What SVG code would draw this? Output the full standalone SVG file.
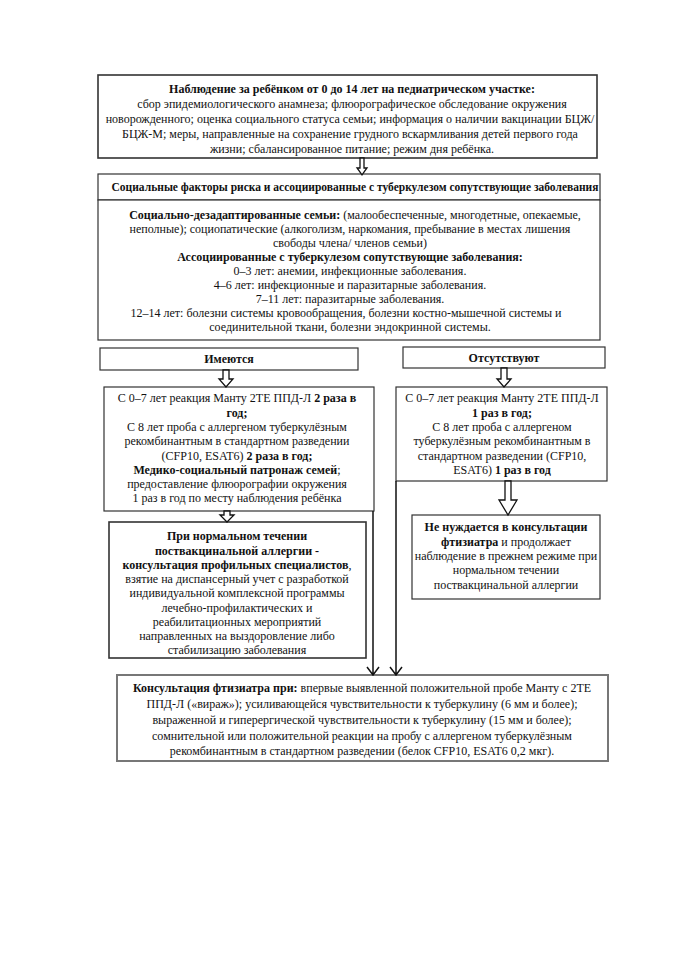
<svg xmlns="http://www.w3.org/2000/svg" width="678" height="960" viewBox="0 0 678 960">
<style>
.box{fill:#fff;stroke:#333;stroke-width:1.2}
.t{font-family:"Liberation Serif","Times New Roman",serif;font-size:12px;fill:#111;text-anchor:middle}
.b{font-weight:bold}
.arr{fill:#fff;stroke:#111;stroke-width:1.3}
.ln{fill:none;stroke:#111;stroke-width:1.5}
</style>
<rect width="678" height="960" fill="#fff"/>
<g id="n-observation">
<rect class="box" x="98" y="75" width="499" height="83" style="stroke-width:1.6"/>
<text class="t" x="352" y="93"><tspan class="b">Наблюдение за ребёнком от 0 до 14 лет на педиатрическом участке:</tspan></text>
<text class="t" x="352" y="108">сбор эпидемиологического анамнеза; флюорографическое обследование окружения</text>
<text class="t" x="350" y="123">новорожденного; оценка социального статуса семьи; информация о наличии вакцинации БЦЖ/</text>
<text class="t" x="350" y="138">БЦЖ-М; меры, направленные на сохранение грудного вскармливания детей первого года</text>
<text class="t" x="352" y="153">жизни; сбалансированное питание; режим дня ребёнка.</text>
</g>
<g id="n-header">
<rect class="box" x="98" y="174" width="502" height="26"/>
<text class="t b" x="355" y="191" style="font-size:11.5px">Социальные факторы риска и ассоциированные с туберкулезом сопутствующие заболевания</text>
</g>
<g id="n-factors">
<rect class="box" x="98" y="200" width="502" height="140"/>
<text class="t" x="355" y="219"><tspan class="b">Социально-дезадаптированные семьи:</tspan> (малообеспеченные, многодетные, опекаемые,</text>
<text class="t" x="350" y="233">неполные); социопатические (алкоголизм, наркомания, пребывание в местах лишения</text>
<text class="t" x="350" y="247">свободы члена/ членов семьи)</text>
<text class="t b" x="350" y="261">Ассоциированные с туберкулезом сопутствующие заболевания:</text>
<text class="t" x="350" y="275">0–3 лет: анемии, инфекционные заболевания.</text>
<text class="t" x="350" y="289">4–6 лет: инфекционные и паразитарные заболевания.</text>
<text class="t" x="350" y="303">7–11 лет: паразитарные заболевания.</text>
<text class="t" x="346" y="317">12–14 лет: болезни системы кровообращения, болезни костно-мышечной системы и</text>
<text class="t" x="350" y="331">соединительной ткани, болезни эндокринной системы.</text>
</g>
<g id="n-present">
<rect class="box" x="100" y="348" width="258" height="22"/>
<text class="t b" x="229" y="363">Имеются</text>
</g>
<g id="n-absent">
<rect class="box" x="403" y="347" width="202" height="21"/>
<text class="t b" x="504" y="362">Отсутствуют</text>
</g>
<g id="n-present-tests">
<rect class="box" x="104" y="387" width="270" height="124"/>
<text class="t" x="237" y="402">С 0–7 лет реакция Манту 2ТЕ ППД-Л <tspan class="b">2 раза в</tspan></text>
<text class="t b" x="237" y="417">год;</text>
<text class="t" x="237" y="431">С 8 лет проба с аллергеном туберкулёзным</text>
<text class="t" x="237" y="445">рекомбинантным в стандартном разведении</text>
<text class="t" x="237" y="460">(CFP10, ESAT6) <tspan class="b">2 раза в год;</tspan></text>
<text class="t" x="237" y="474"><tspan class="b">Медико-социальный патронаж семей</tspan>;</text>
<text class="t" x="237" y="488">предоставление флюорографии окружения</text>
<text class="t" x="237" y="502">1 раз в год по месту наблюдения ребёнка</text>
</g>
<g id="n-absent-tests">
<rect class="box" x="396" y="387" width="211" height="94"/>
<text class="t" x="502" y="402">С 0–7 лет реакция Манту 2ТЕ ППД-Л</text>
<text class="t b" x="502" y="417">1 раз в год;</text>
<text class="t" x="502" y="431">С 8 лет проба с аллергеном</text>
<text class="t" x="502" y="445">туберкулёзным рекомбинантным в</text>
<text class="t" x="502" y="460">стандартном разведении (CFP10,</text>
<text class="t" x="502" y="474">ESAT6) <tspan class="b">1 раз в год</tspan></text>
</g>
<g id="n-specialists">
<rect class="box" x="109" y="522" width="257" height="136" style="stroke-width:1.6"/>
<text class="t b" x="237" y="540">При нормальном течении</text>
<text class="t b" x="237" y="555">поствакцинальной аллергии -</text>
<text class="t" x="237" y="569"><tspan class="b">консультация профильных специалистов</tspan>,</text>
<text class="t" x="237" y="583">взятие на диспансерный учет с разработкой</text>
<text class="t" x="237" y="597">индивидуальной комплексной программы</text>
<text class="t" x="237" y="612">лечебно-профилактических и</text>
<text class="t" x="237" y="626">реабилитационных мероприятий</text>
<text class="t" x="237" y="640">направленных на выздоровление либо</text>
<text class="t" x="237" y="654">стабилизацию заболевания</text>
</g>
<g id="n-no-consult">
<rect class="box" x="412" y="515" width="188" height="84"/>
<text class="t b" x="506" y="531">Не нуждается в консультации</text>
<text class="t" x="506" y="546"><tspan class="b">фтизиатра</tspan> и продолжает</text>
<text class="t" x="506" y="560">наблюдение в прежнем режиме при</text>
<text class="t" x="506" y="574">нормальном течении</text>
<text class="t" x="506" y="589">поствакцинальной аллергии</text>
</g>
<g id="n-phthisiatrician">
<rect class="box" x="117" y="675" width="491" height="86" style="stroke:#777;stroke-width:2"/>
<text class="t" x="362" y="692"><tspan class="b">Консультация фтизиатра при:</tspan> впервые выявленной положительной пробе Манту с 2ТЕ</text>
<text class="t" x="362" y="708">ППД-Л («вираж»); усиливающейся чувствительности к туберкулину (6 мм и более);</text>
<text class="t" x="362" y="724">выраженной и гиперергической чувствительности к туберкулину (15 мм и более);</text>
<text class="t" x="362" y="740">сомнительной или положительной реакции на пробу с аллергеном туберкулёзным</text>
<text class="t" x="362" y="755">рекомбинантным в стандартном разведении (белок CFP10, ESAT6 0,2 мкг).</text>
</g>
<g id="connectors">
<path class="arr" d="M360,158 V168 H357 L362,175 L367,168 H364 V158 Z"/>
<path class="arr" d="M223,370 V379 H219 L226,387 L233,379 H229 V370 Z"/>
<path class="arr" d="M501,368 V379 H497 L504,387 L511,379 H507 V368 Z"/>
<path class="arr" d="M224,511 V515 H220 L227,522 L234,515 H230 V511 Z"/>
<path class="arr" d="M505,481 V500 H499 L508,515 L517,500 H511 V481 Z"/>
<path class="ln" d="M373,511 V675 M367,667 L373,675 L379,667"/>
<path class="ln" d="M396,481 V675 M390,667 L396,675 L402,667"/>
</g>
</svg>
